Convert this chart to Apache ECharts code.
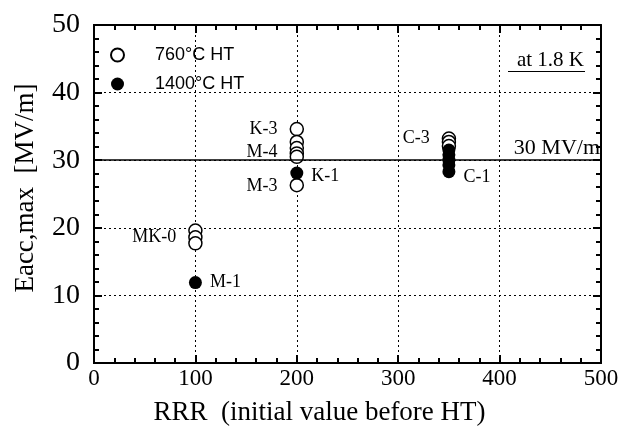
<!DOCTYPE html>
<html>
<head>
<meta charset="utf-8">
<script src="https://cdn.jsdelivr.net/npm/echarts@6/dist/echarts.min.js"></script>
<style>
  html, body { margin: 0; padding: 0; background: #fff; }
  #chart { width: 622px; height: 437px; }
</style>
</head>
<body>
<div id="chart"></div>
<script>
"use strict";

// 760 C heat treatment (open circles)
var rrr760 = [100, 100, 100, 200, 200, 200, 200, 200, 200, 350, 350, 350];
var eacc760 = [19.6, 18.6, 17.7, 34.6, 32.7, 31.8, 31.0, 30.5, 26.3, 33.2, 32.7, 32.1];
var names760 = ["", "MK-0", "", "K-3", "", "M-4", "", "", "M-3", "C-3", "", ""];

// 1400 C heat treatment (filled circles)
var rrr1400 = [100, 200, 350, 350, 350, 350, 350];
var eacc1400 = [11.9, 28.1, 31.5, 30.8, 30.0, 29.3, 28.3];
var names1400 = ["M-1", "K-1", "", "", "", "", "C-1"];

var xTicks = [0, 100, 200, 300, 400, 500];
var yTicks = [0, 10, 20, 30, 40, 50];
var refLevel = 30;

var serif = "Liberation Serif";
var plotBox = { left: 94, right: 21, top: 25, bottom: 74 };

var chart = echarts.init(document.getElementById("chart"));

function points(xs, ys, names, side, dist, dy) {
  return xs.map(function (x, i) {
    var item = { value: [x, ys[i]], name: names[i] };
    if (names[i]) {
      item.label = {
        show: true,
        position: side,
        distance: dist,
        offset: [0, dy[names[i]] || 0],
        formatter: "{b}",
        fontFamily: serif,
        fontSize: 18,
        color: "#000",
      };
    }
    return item;
  });
}

// tick-only frame axes on a second grid over the same box, ticks pointing inward
function frame(gridIndex, position, ticks) {
  return {
    type: "value",
    gridIndex: gridIndex,
    position: position,
    min: ticks[0],
    max: ticks[ticks.length - 1],
    interval: ticks[1] - ticks[0],
    axisLine: { show: true, onZero: false, lineStyle: { color: "#000", width: 2 } },
    axisTick: { show: true, inside: true, length: 8, lineStyle: { color: "#000", width: 2 } },
    minorTick: { show: true, splitNumber: 5, length: 5, lineStyle: { color: "#000", width: 2 } },
    axisLabel: { show: false },
    splitLine: { show: false },
  };
}

chart.setOption({
  animation: false,
  grid: [
    Object.assign({}, plotBox),
    Object.assign({}, plotBox),
  ],
  legend: {
    orient: "vertical",
    left: 105,
    top: 41,
    itemGap: 11,
    itemWidth: 13,
    itemHeight: 13,
    data: ["760°C HT", "1400°C HT"],
    textStyle: { fontFamily: "Liberation Sans", fontSize: 18, color: "#000", padding: [0, 0, 0, 26] },
  },
  graphic: [
    {
      type: "text",
      right: 38,
      top: 50,
      style: { text: "at 1.8 K", font: "21px Liberation Serif", fill: "#000" },
    },
    {
      type: "rect",
      right: 37,
      top: 71,
      shape: { width: 77, height: 1 },
      style: { fill: "#000" },
    },
  ],
  xAxis: [
    {
      type: "value",
      gridIndex: 0,
      min: xTicks[0],
      max: xTicks[xTicks.length - 1],
      interval: 100,
      position: "bottom",
      name: "RRR  (initial value before HT)",
      nameLocation: "middle",
      nameGap: 36,
      nameTextStyle: { fontFamily: serif, fontSize: 27, color: "#000", padding: [0, 56, 0, 0] },
      axisLine: { show: true, onZero: false, lineStyle: { color: "#000", width: 2 } },
      axisTick: { show: false },
      axisLabel: { fontFamily: serif, fontSize: 23, color: "#000", margin: 4 },
      splitLine: { show: true, lineStyle: { color: "#000", width: 1, type: [2, 3] } },
    },
    frame(1, "bottom", xTicks),
    frame(1, "top", xTicks),
  ],
  yAxis: [
    {
      type: "value",
      gridIndex: 0,
      min: yTicks[0],
      max: yTicks[yTicks.length - 1],
      interval: 10,
      position: "left",
      name: "Eacc,max  [MV/m]",
      nameLocation: "middle",
      nameGap: 55,
      nameTextStyle: { fontFamily: serif, fontSize: 27, color: "#000", padding: [0, 0, 0, 12] },
      axisLine: { show: true, onZero: false, lineStyle: { color: "#000", width: 2 } },
      axisTick: { show: false },
      axisLabel: { fontFamily: serif, fontSize: 28, color: "#000", margin: 14 },
      splitLine: { show: true, lineStyle: { color: "#000", width: 1, type: [2, 3] } },
    },
    frame(1, "left", yTicks),
    frame(1, "right", yTicks),
  ],
  series: [
    {
      name: "760°C HT",
      type: "scatter",
      xAxisIndex: 0,
      yAxisIndex: 0,
      symbol: "circle",
      symbolSize: 13,
      itemStyle: { color: "#fff", borderColor: "#000", borderWidth: 1.5, opacity: 1 },
      data: points(rrr760, eacc760, names760, "left", 12, { "M-4": 4, "M-3": 1 }),
      markLine: {
        silent: true,
        symbol: "none",
        lineStyle: { color: "#000", width: 1.5, type: "solid" },
        label: {
          show: true,
          position: "insideEndTop",
          distance: 1,
          formatter: "30 MV/m",
          fontFamily: serif,
          fontSize: 22,
          color: "#000",
        },
        data: [{ yAxis: refLevel }],
      },
      z: 3,
    },
    {
      name: "1400°C HT",
      type: "scatter",
      xAxisIndex: 0,
      yAxisIndex: 0,
      symbol: "circle",
      symbolSize: 13,
      itemStyle: { color: "#000", borderColor: "#000", borderWidth: 0, opacity: 1 },
      data: points(rrr1400, eacc1400, names1400, "right", 8, { "K-1": 3, "C-1": 6 }),
      z: 4,
    },
  ],
});
</script>
</body>
</html>
